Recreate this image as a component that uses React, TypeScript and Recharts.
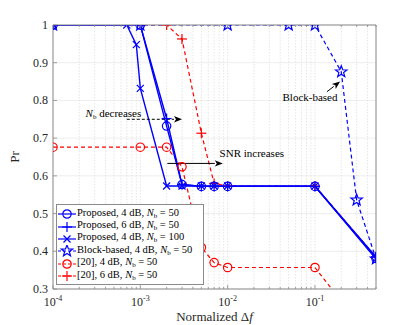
import React from 'react'
import { LineChart, Line, XAxis, YAxis, CartesianGrid, ReferenceLine, ReferenceDot } from 'recharts'

// x positions (normalized frequency offset) and Pr values
const xMain = [1e-4, 1e-3, 2e-3, 3e-3, 5e-3, 7e-3, 1e-2, 1e-1, 0.5]
const prop4dB50 = [1, 1, 0.732, 0.577, 0.572, 0.572, 0.572, 0.572, 0.381]
const prop6dB50 = [1, 1, 0.752, 0.577, 0.572, 0.572, 0.572, 0.572, 0.385]
const xN100 = [1e-4, 7e-4, 9e-4, 1e-3, 2e-3, 3e-3, 5e-3, 7e-3, 1e-2, 1e-1, 0.5]
const prop4dB100 = [1, 1, 0.948, 0.832, 0.573, 0.573, 0.573, 0.573, 0.573, 0.573, 0.38]
const xBlock = [1e-4, 1e-3, 1e-2, 5e-2, 1e-1, 0.2, 0.3, 0.5]
const block4dB50 = [1, 1, 1, 1, 1, 0.876, 0.536, 0.38]
const ref4dB50 = [0.676, 0.676, 0.676, 0.624, 0.41, 0.37, 0.357, 0.357, 0.15]
const ref6dB50 = [1, 1, 1, 0.963, 0.713, 0.58, 0.573, 0.573, 0.385]

const majorX = [1e-4, 1e-3, 1e-2, 1e-1]
const allX = [
  1e-4, 2e-4, 3e-4, 4e-4, 5e-4, 6e-4, 7e-4, 8e-4, 9e-4,
  1e-3, 2e-3, 3e-3, 4e-3, 5e-3, 6e-3, 7e-3, 8e-3, 9e-3,
  1e-2, 2e-2, 3e-2, 4e-2, 5e-2, 6e-2, 7e-2, 8e-2, 9e-2,
  1e-1, 2e-1, 3e-1, 4e-1, 5e-1,
]
const yTicks = [0.3, 0.4, 0.5, 0.6, 0.7, 0.8, 0.9, 1]

const arrows = [
  { x1: 7e-4, y1: 0.75, x2: 3e-3, y2: 0.75, dashed: true },
  { x1: 2.04e-3, y1: 0.633, x2: 8.8e-3, y2: 0.633, dashed: false },
  { x1: 0.137, y1: 0.823, x2: 0.194, y2: 0.85, dashed: false },
]

const BLUE = '#0000ff'
const RED = '#ff0000'
const AX = '#8a8a8a'
const TXT = '#262626'
const FONT = '"Liberation Serif", "Times New Roman", Times, serif'

// chart box
const W = 415
const H = 325
const M = { top: 24, right: 38, left: 0, bottom: 0 }
const Y_W = 53
const X_H = 36

const toRows = (xs: number[], ys: number[]) => xs.map((x, i) => ({ x, y: ys[i] }))

type Marker = 'circle' | 'plus' | 'cross' | 'star'

function MarkerShape({ kind, cx, cy, color }: { kind: Marker; cx: number; cy: number; color: string }) {
  if (cx == null || cy == null || isNaN(cx) || isNaN(cy)) return null
  if (kind === 'circle') return <circle cx={cx} cy={cy} r={4.2} fill="none" stroke={color} strokeWidth={1.2} />
  if (kind === 'plus') {
    const s = 5
    return (
      <g stroke={color} strokeWidth={1.2}>
        <line x1={cx - s} y1={cy} x2={cx + s} y2={cy} />
        <line x1={cx} y1={cy - s} x2={cx} y2={cy + s} />
      </g>
    )
  }
  if (kind === 'cross') {
    const s = 3.5
    return (
      <g stroke={color} strokeWidth={1.2}>
        <line x1={cx - s} y1={cy - s} x2={cx + s} y2={cy + s} />
        <line x1={cx - s} y1={cy + s} x2={cx + s} y2={cy - s} />
      </g>
    )
  }
  const pts: string[] = []
  for (let i = 0; i < 10; i++) {
    const r = i % 2 === 0 ? 6 : 2.5
    const a = -Math.PI / 2 + (i * Math.PI) / 5
    pts.push(`${cx + r * Math.cos(a)},${cy + r * Math.sin(a)}`)
  }
  return <polygon points={pts.join(' ')} fill="none" stroke={color} strokeWidth={1.2} />
}

const dotFn = (kind: Marker, color: string) => (p: any) => (
  <MarkerShape key={`${kind}-${p.index}`} kind={kind} cx={p.cx} cy={p.cy} color={color} />
)

const isMajor = (v: number) => majorX.some((m) => Math.abs(m - v) / m < 1e-6)

function BottomTick(props: any) {
  const { x, y, payload } = props
  const major = isMajor(payload.value)
  const exp = Math.round(Math.log10(payload.value))
  return (
    <g>
      <line x1={x} y1={y} x2={x} y2={y - (major ? 4 : 2)} stroke={AX} strokeWidth={0.8} />
      {major && (
        <text x={x} y={y + 17} textAnchor="middle" fill={TXT} fontFamily={FONT} fontSize={12}>
          <tspan>10</tspan>
          <tspan dy={-5} fontSize={8}>{exp}</tspan>
        </text>
      )}
    </g>
  )
}

function TopTick(props: any) {
  const { x, y, payload } = props
  const major = isMajor(payload.value)
  return <line x1={x} y1={y} x2={x} y2={y + (major ? 4 : 2)} stroke={AX} strokeWidth={0.8} />
}

function LeftTick(props: any) {
  const { x, y, payload } = props
  return (
    <g>
      <line x1={x} y1={y} x2={x + 4} y2={y} stroke={AX} strokeWidth={0.8} />
      <text x={x - 5} y={y + 4} textAnchor="end" fill={TXT} fontFamily={FONT} fontSize={12}>
        {payload.value === 1 ? '1' : payload.value.toFixed(1)}
      </text>
    </g>
  )
}

function RightTick(props: any) {
  const { x, y } = props
  return <line x1={x} y1={y} x2={x - 4} y2={y} stroke={AX} strokeWidth={0.8} />
}

function Arrow(props: any) {
  const { x1, y1, x2, y2, dashed } = props
  const ang = Math.atan2(y2 - y1, x2 - x1)
  const L = 8
  const hw = 3.2
  const bx = x2 - L * Math.cos(ang)
  const by = y2 - L * Math.sin(ang)
  const px = -Math.sin(ang) * hw
  const py = Math.cos(ang) * hw
  return (
    <g>
      <line x1={x1} y1={y1} x2={bx} y2={by} stroke="#000" strokeWidth={1} strokeDasharray={dashed ? '3 2' : undefined} />
      <polygon points={`${x2},${y2} ${bx + px},${by + py} ${bx + 2 * Math.cos(ang)},${by + 2 * Math.sin(ang)} ${bx - px},${by - py}`} fill="#000" />
    </g>
  )
}

const Nb = () => (
  <>
    <i>N</i>
    <sub style={{ fontSize: 7, verticalAlign: -2 }}>b</sub>
  </>
)

const legendItems: { label: React.ReactNode; color: string; kind: Marker; dashed: boolean }[] = [
  { label: <>Proposed, 4 dB, <Nb /> = 50</>, color: BLUE, kind: 'circle', dashed: false },
  { label: <>Proposed, 6 dB, <Nb /> = 50</>, color: BLUE, kind: 'plus', dashed: false },
  { label: <>Proposed, 4 dB, <Nb /> = 100</>, color: BLUE, kind: 'cross', dashed: false },
  { label: <>Block-based, 4 dB, <Nb /> = 50</>, color: BLUE, kind: 'star', dashed: true },
  { label: <>[20], 4 dB, <Nb /> = 50</>, color: RED, kind: 'circle', dashed: true },
  { label: <>[20], 6 dB, <Nb /> = 50</>, color: RED, kind: 'plus', dashed: true },
]

function ChartLegend() {
  return (
    <div
      style={{
        position: 'absolute',
        left: 56,
        top: 204,
        width: 148,
        height: 81,
        background: '#fff',
        border: `1px solid ${AX}`,
        fontFamily: FONT,
        fontSize: 10.5,
        color: '#000',
        boxSizing: 'border-box',
        paddingTop: 3,
      }}
    >
      {legendItems.map((it, i) => (
        <div key={i} style={{ display: 'flex', alignItems: 'center', height: 12.4, whiteSpace: 'nowrap' }}>
          <svg width={20} height={12} style={{ flex: 'none' }}>
            <line x1={1} y1={6} x2={19} y2={6} stroke={it.color} strokeWidth={1.2} strokeDasharray={it.dashed ? '3 2' : undefined} />
            <MarkerShape kind={it.kind} cx={10} cy={6} color={it.color} />
          </svg>
          <span style={{ lineHeight: '12px' }}>{it.label}</span>
        </div>
      ))}
    </div>
  )
}

function NbText(props: any) {
  const { cx, cy } = props
  return (
    <text x={cx} y={cy + 4} textAnchor="end" fill="#000" fontFamily={FONT} fontSize={11}>
      <tspan fontStyle="italic">N</tspan>
      <tspan dy={2} fontSize={7}>b</tspan>
      <tspan dy={-2}> decreases</tspan>
    </text>
  )
}

function PlainText(text: string) {
  return (props: any) => (
    <text x={props.cx} y={props.cy + 4} textAnchor="start" fill="#000" fontFamily={FONT} fontSize={11}>
      {text}
    </text>
  )
}

function XLabel(props: any) {
  const { viewBox } = props
  const cx = viewBox.x + viewBox.width / 2
  return (
    <text x={cx} y={viewBox.y + 32} textAnchor="middle" fill={TXT} fontFamily={FONT} fontSize={13}>
      Normalized Δ<tspan fontStyle="italic">f</tspan>
    </text>
  )
}

function YLabel(props: any) {
  const { viewBox } = props
  const cy = viewBox.y + viewBox.height / 2
  return (
    <text x={19} y={cy} textAnchor="middle" fill={TXT} transform={`rotate(-90 19 ${cy})`} fontFamily={FONT} fontSize={13}>
      Pr
    </text>
  )
}

export default function App() {
  const plotX = M.left + Y_W
  const plotY = M.top + 1
  const plotW = W - M.right - 1 - plotX
  const plotH = H - M.bottom - X_H - plotY
  return (
    <div style={{ position: 'absolute', left: 0, top: 0, width: W, height: H, background: '#fff' }}>
      <svg width={0} height={0} style={{ position: 'absolute' }}>
        <defs>
          <clipPath id="plot-clip">
            <rect x={plotX} y={plotY} width={plotW} height={plotH} />
          </clipPath>
        </defs>
      </svg>
      <style>{'.recharts-line-curve { clip-path: url(#plot-clip); }'}</style>
      <LineChart width={W} height={H} margin={M}>
        <CartesianGrid vertical={false} stroke="#e8e8e8" strokeWidth={0.8} />
        <CartesianGrid horizontal={false} stroke="#e0e0e0" strokeWidth={0.8} strokeDasharray="1.5 1.5" />
        <XAxis
          type="number"
          dataKey="x"
          scale="log"
          domain={[1e-4, 0.5]}
          ticks={allX}
          interval={0}
          allowDataOverflow
          height={X_H}
          stroke={AX}
          tickSize={0}
          tickMargin={0}
          tickLine={false}
          tick={<BottomTick />}
          label={<XLabel />}
        />
        <XAxis
          xAxisId="top"
          orientation="top"
          type="number"
          dataKey="x"
          scale="log"
          domain={[1e-4, 0.5]}
          ticks={allX}
          interval={0}
          allowDataOverflow
          height={1}
          stroke={AX}
          tickSize={0}
          tickMargin={0}
          tickLine={false}
          tick={<TopTick />}
        />
        <YAxis
          type="number"
          domain={[0.3, 1]}
          ticks={yTicks}
          interval={0}
          allowDataOverflow
          width={Y_W}
          stroke={AX}
          tickSize={0}
          tickMargin={0}
          tickLine={false}
          tick={<LeftTick />}
          label={<YLabel />}
        />
        <YAxis
          yAxisId="right"
          orientation="right"
          type="number"
          domain={[0.3, 1]}
          ticks={yTicks}
          interval={0}
          width={1}
          stroke={AX}
          tickSize={0}
          tickMargin={0}
          tickLine={false}
          tick={<RightTick />}
        />

        <Line data={toRows(xMain, ref4dB50)} dataKey="y" stroke={RED} strokeWidth={1.2} strokeDasharray="4 3" dot={dotFn('circle', RED)} isAnimationActive={false} />
        <Line data={toRows(xMain, ref6dB50)} dataKey="y" stroke={RED} strokeWidth={1.2} strokeDasharray="4 3" dot={dotFn('plus', RED)} isAnimationActive={false} />
        <Line data={toRows(xBlock, block4dB50)} dataKey="y" stroke={BLUE} strokeWidth={1.2} strokeDasharray="4 3" dot={dotFn('star', BLUE)} isAnimationActive={false} />
        <Line data={toRows(xN100, prop4dB100)} dataKey="y" stroke={BLUE} strokeWidth={1.4} dot={dotFn('cross', BLUE)} isAnimationActive={false} />
        <Line data={toRows(xMain, prop6dB50)} dataKey="y" stroke={BLUE} strokeWidth={1.4} dot={dotFn('plus', BLUE)} isAnimationActive={false} />
        <Line data={toRows(xMain, prop4dB50)} dataKey="y" stroke={BLUE} strokeWidth={1.4} dot={dotFn('circle', BLUE)} isAnimationActive={false} />

        {arrows.map((a, i) => (
          <ReferenceLine
            key={`arr-${i}`}
            segment={[{ x: a.x1, y: a.y1 }, { x: a.x2, y: a.y2 }]}
            ifOverflow="visible"
            shape={(p: any) => <Arrow {...p} dashed={a.dashed} />}
          />
        ))}
        <ReferenceDot x={1.026e-3} y={0.767} ifOverflow="visible" shape={NbText} />
        <ReferenceDot x={8.09e-3} y={0.661} ifOverflow="visible" shape={PlainText('SNR increases')} />
        <ReferenceDot x={0.0425} y={0.808} ifOverflow="visible" shape={PlainText('Block-based')} />
      </LineChart>
      <ChartLegend />
    </div>
  )
}
